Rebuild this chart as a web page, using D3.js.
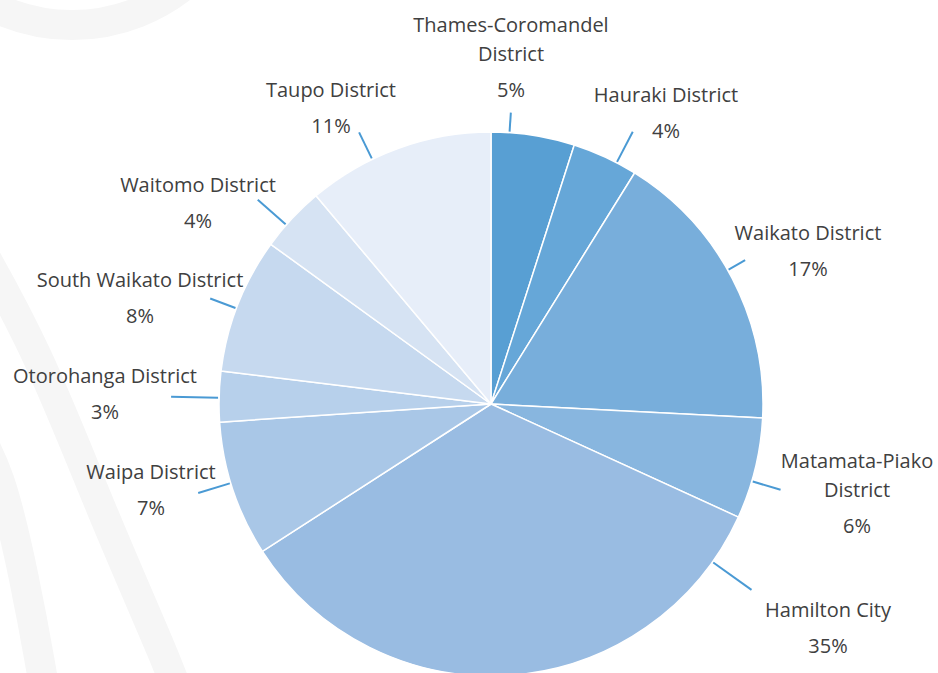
<!DOCTYPE html>
<html>
<head>
<meta charset="utf-8">
<script src="https://cdn.jsdelivr.net/npm/d3@7"></script>
<style>
  html, body { margin: 0; padding: 0; background: #fff; }
  svg { display: block; }
  .lbl { font-family: "Open Sans", sans-serif; font-size: 20px; fill: #404040; }
</style>
</head>
<body>
<svg id="chart" width="938" height="673"></svg>
<script>
// data (slice shares in %, going clockwise from 12 o'clock)
var districts = ["Thames-Coromandel District", "Hauraki District", "Waikato District",
  "Matamata-Piako District", "Hamilton City", "Waipa District", "Otorohanga District",
  "South Waikato District", "Waitomo District", "Taupo District"];
var shares = [4.95, 3.9, 16.97, 6.0, 34.06, 8.05, 3.0, 8.05, 3.89, 11.12];
var pctLabels = ["5%", "4%", "17%", "6%", "35%", "7%", "3%", "8%", "4%", "11%"];

var colors = ["#589fd3", "#66a7d8", "#78aedb", "#88b6df", "#99bce2",
  "#a9c7e7", "#b7d0eb", "#c6d9ef", "#d6e3f3", "#e7eef9"];

// label layout: leader angle (deg), leader outer radius, label centre x, first baseline y, wrap name
var layout = [
  {a: 3.9,   r1: 292, x: 511, y: 32,  wrap: true},
  {a: 27.5,  r1: 307, x: 666, y: 102, wrap: false},
  {a: 60.5,  r1: 292, x: 808, y: 240, wrap: false},
  {a: 106.5, r1: 302, x: 857, y: 468, wrap: true},
  {a: 125.5, r1: 320, x: 828, y: 617, wrap: false},
  {a: 253.1, r1: 306, x: 151, y: 479, wrap: false},
  {a: 271.3, r1: 320, x: 105, y: 383, wrap: false},
  {a: 290.6, r1: 300, x: 140, y: 287, wrap: false},
  {a: 311.2, r1: 310, x: 198, y: 192, wrap: false},
  {a: 334.1, r1: 302, x: 331, y: 97,  wrap: false}
];

var WIDTH = 938, HEIGHT = 673,
    CX = 491, CY = 404, RADIUS = 272;

var svg = d3.select("#chart");

// faint decorative background shapes
var deco = svg.append("g").attr("fill", "none").attr("stroke", "#f6f6f6").attr("stroke-width", 30);
deco.append("circle").attr("cx", 72).attr("cy", -154).attr("r", 179);
deco.append("path")
  .attr("d", d3.line().curve(d3.curveBasis)([[-30, 230], [38, 350], [101, 511], [172, 673], [180, 700]]));
deco.append("path")
  .attr("d", d3.line().curve(d3.curveBasis)([[-30, 420], [0, 470], [25, 580], [42, 673], [46, 700]]));

var pie = d3.pie().sort(null).value(function (d) { return d; });
var arcs = pie(shares);

var arc = d3.arc().innerRadius(0).outerRadius(RADIUS);

var g = svg.append("g").attr("transform", "translate(" + CX + "," + CY + ")");

g.selectAll("path.slice")
  .data(arcs)
  .enter().append("path")
  .attr("class", "slice")
  .attr("d", arc)
  .attr("fill", function (d, i) { return colors[i]; })
  .attr("stroke", "#fff")
  .attr("stroke-width", 1.5)
  .attr("stroke-linejoin", "round");

// leader lines
g.selectAll("line.leader")
  .data(layout)
  .enter().append("line")
  .attr("class", "leader")
  .each(function (d) {
    var rad = d.a * Math.PI / 180;
    var p0 = d3.pointRadial(rad, RADIUS + 1),
        p1 = d3.pointRadial(rad, d.r1);
    d3.select(this).attr("x1", p0[0]).attr("y1", p0[1]).attr("x2", p1[0]).attr("y2", p1[1]);
  })
  .attr("stroke", "#4a9ad4")
  .attr("stroke-width", 2);

// labels
var labels = svg.selectAll("text.lbl")
  .data(districts)
  .enter().append("text")
  .attr("class", "lbl")
  .attr("text-anchor", "middle")
  .attr("x", function (d, i) { return layout[i].x; })
  .attr("y", function (d, i) { return layout[i].y; });

labels.each(function (name, i) {
  var t = d3.select(this), L = layout[i];
  var lines = [name];
  if (L.wrap) {
    var k = name.lastIndexOf(" ");
    lines = [name.slice(0, k), name.slice(k + 1)];
  }
  lines.forEach(function (s, j) {
    t.append("tspan").attr("x", L.x).attr("dy", j === 0 ? 0 : 29).text(s);
  });
  t.append("tspan").attr("x", L.x).attr("dy", 36).text(pctLabels[i]);
});
</script>
</body>
</html>
